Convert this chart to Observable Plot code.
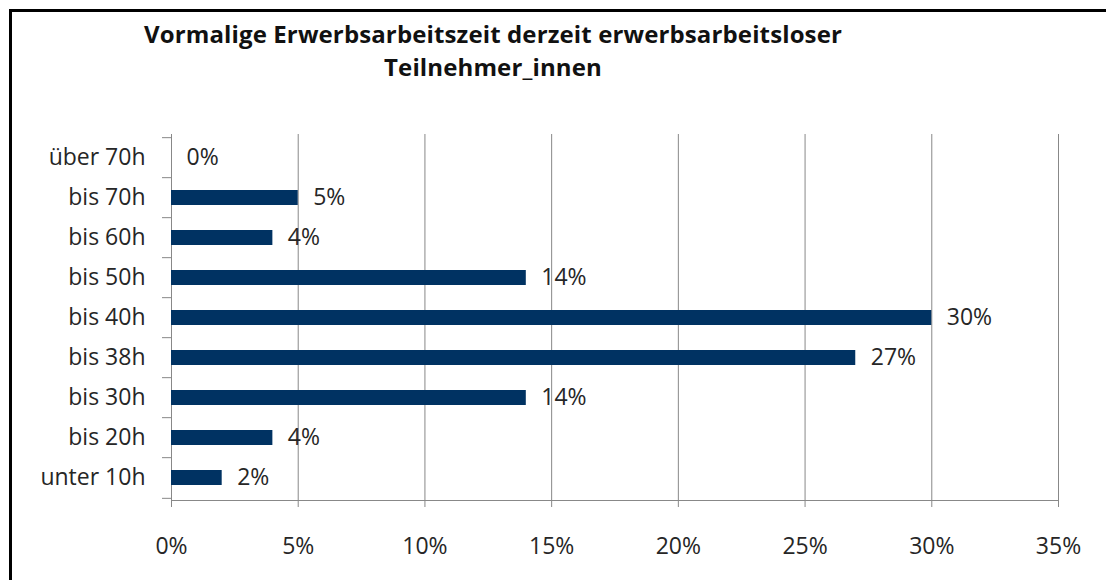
<!DOCTYPE html>
<html>
<head>
<meta charset="utf-8">
<script src="https://cdn.jsdelivr.net/npm/d3@7"></script>
<script src="https://cdn.jsdelivr.net/npm/@observablehq/plot@0.6"></script>
<style>
  html, body { margin: 0; padding: 0; background: #fff; }
  #wrap { position: relative; width: 1106px; height: 580px; overflow: hidden; background: #fff; font-family: "Open Sans", sans-serif; }
  #frame { position: absolute; z-index: 10; left: 9px; top: 9px; width: 1200px; height: 700px; border-left: 3px solid #000; border-top: 3px solid #000; pointer-events: none; }
  #title { position: absolute; left: 0; top: 17px; width: 986px; text-align: center; font-weight: bold; font-size: 24px; line-height: 33px; color: #111; white-space: nowrap; }
  #title div { display: block; }
  #chart { position: absolute; left: 0; top: 100px; }
</style>
</head>
<body>
<div id="wrap">
  <div id="frame"></div>
  <div id="title"><div id="t1"></div><div id="t2"></div></div>
  <div id="chart"></div>
</div>
<script>
const titleLines = ["Vormalige Erwerbsarbeitszeit derzeit erwerbsarbeitsloser", "Teilnehmer_innen"];
const categories = ["über 70h", "bis 70h", "bis 60h", "bis 50h", "bis 40h", "bis 38h", "bis 30h", "bis 20h", "unter 10h"];
const values = [0, 5, 4, 14, 30, 27, 14, 4, 2];
const xTicks = [0, 5, 10, 15, 20, 25, 30, 35];

const data = categories.map((c, i) => ({cat: c, value: values[i]}));

// title
document.getElementById("t1").textContent = titleLines[0];
document.getElementById("t2").textContent = titleLines[1];
(function fitTitle() {
  const ctx = document.createElement("canvas").getContext("2d");
  ctx.font = "bold 24px 'Open Sans'";
  const s = titleLines[0];
  const w = ctx.measureText(s).width;
  const target = 698;
  const ls = (target - w) / s.length;
  document.getElementById("title").style.letterSpacing = ls + "px";
})();

const W = 1106, H = 470, mt = 34, mb = 70, ml = 171, mr = 48;
const halfStep = (H - mt - mb) / categories.length / 2;
const gray = "#888";
const ink = "#262626";
const fs = 23;

const chart = Plot.plot({
  width: W,
  height: H,
  marginTop: mt,
  marginBottom: mb,
  marginLeft: ml,
  marginRight: mr,
  style: {fontFamily: "Open Sans, sans-serif", fontSize: fs + "px", background: "transparent"},
  x: {domain: [0, 35]},
  y: {domain: categories, paddingInner: 0.63, paddingOuter: 0.315},
  marks: [
    Plot.gridX(xTicks, {stroke: gray, strokeOpacity: 1, strokeWidth: 1}),
    Plot.ruleX([0], {stroke: gray, strokeWidth: 1}),
    Plot.frame({anchor: "bottom", stroke: gray, strokeWidth: 1}),
    Plot.axisX({ticks: xTicks, tickSize: 7, tickPadding: 30, tickFormat: d => d + "%", stroke: gray, fill: ink, fontSize: fs, label: null}),
    Plot.axisY({tickSize: 0, tickPadding: 26, fill: ink, fontSize: fs, label: null}),
    Plot.axisY({tickSize: 9, tickFormat: () => "", dy: -halfStep, stroke: gray, label: null}),
    Plot.axisY({ticks: [categories[categories.length - 1]], tickSize: 9, tickFormat: () => "", dy: halfStep, stroke: gray, label: null}),
    Plot.barX(data, {x: "value", y: "cat", fill: "#003262"}),
    Plot.text(data, {x: "value", y: "cat", text: d => d.value + "%", textAnchor: "start", dx: 15, fill: ink, fontSize: fs})
  ]
});
document.getElementById("chart").appendChild(chart);
</script>
</body>
</html>
